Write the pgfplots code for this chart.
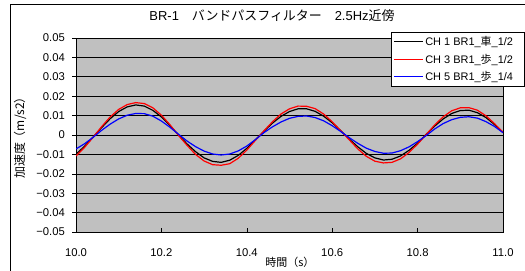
\documentclass[border=0pt]{standalone}
\usepackage{fontspec}
\setmainfont{Liberation Sans}
\newfontfamily\cjk{Noto Sans CJK JP}
\usepackage{pgfplots}
\pgfplotsset{compat=1.18}
\definecolor{plotgray}{HTML}{C0C0C0}
\begin{document}
\begin{tikzpicture}
\begin{axis}[
  at={(76bp,-232bp)}, anchor=south west,
  scale only axis, width=427bp, height=194bp,
  xmin=10, xmax=11, ymin=-0.05, ymax=0.05,
  scaled y ticks=false, scaled x ticks=false,
  axis background/.style={fill=plotgray},
  axis line style={black, line width=0.8pt},
  xtick={10,10.2,10.4,10.6,10.8,11},
  xticklabels={10.0,10.2,10.4,10.6,10.8,11.0},
  ytick={-0.05,-0.04,-0.03,-0.02,-0.01,0,0.01,0.02,0.03,0.04,0.05},
  yticklabels={−0.05,−0.04,−0.03,−0.02,−0.01,0,0.01,0.02,0.03,0.04,0.05},
  tickpos=left,
  major tick length=4bp,
  tick style={black, line width=0.6pt},
  y tick style={xshift=-4bp},
  ymajorgrids, grid style={black, line width=0.6pt},
  xticklabel style={anchor=base, inner sep=0pt, yshift=-24bp, font=\fontsize{11.3}{13}\selectfont},
  yticklabel style={anchor=east, inner sep=0pt, xshift=-11bp, font=\fontsize{11.3}{13}\selectfont},
  title={BR-1\hspace{1em}{\cjk バンドパスフィルター}\hspace{1em}2.5Hz{\cjk 近傍}},
  title style={at={(rel axis cs:0.459,1.0825)}, anchor=center, inner sep=0pt, font=\fontsize{13}{15}\selectfont},
  xlabel={\cjk 時間（s）},
  xlabel style={at={(rel axis cs:0.501,-0.155)}, anchor=center, inner sep=0pt, font=\fontsize{11}{13}\selectfont},
  legend style={at={(rel axis cs:0.7377,1.031)}, anchor=north west, draw=black, fill=white, line width=0.6pt,
    inner sep=2bp, row sep=3bp, font=\fontsize{11}{13}\selectfont, legend cell align=left},
  legend image code/.code={\draw[#1, line width=1pt] (0bp,0bp) -- (29bp,0bp);},
]
\addplot[black, line width=1.2pt] coordinates {
(10.00,-0.0099) (10.02,-0.0058) (10.04,-0.0011) (10.06,0.0038) (10.08,0.0084)
(10.10,0.0121) (10.12,0.0145) (10.14,0.0155) (10.16,0.0149) (10.18,0.0127)
(10.20,0.0093) (10.22,0.0049) (10.24,0.0000) (10.26,-0.0046) (10.28,-0.0086)
(10.30,-0.0118) (10.32,-0.0136) (10.34,-0.0141) (10.36,-0.0130) (10.38,-0.0105)
(10.40,-0.0069) (10.42,-0.0025) (10.44,0.0019) (10.46,0.0061) (10.48,0.0096)
(10.50,0.0121) (10.52,0.0135) (10.54,0.0135) (10.56,0.0122) (10.58,0.0097)
(10.60,0.0063) (10.62,0.0022) (10.64,-0.0021) (10.66,-0.0061) (10.68,-0.0095)
(10.70,-0.0118) (10.72,-0.0129) (10.74,-0.0125) (10.76,-0.0108) (10.78,-0.0079)
(10.80,-0.0042) (10.82,0.0003) (10.84,0.0046) (10.86,0.0083) (10.88,0.0111)
(10.90,0.0126) (10.92,0.0128) (10.94,0.0115) (10.96,0.0090) (10.98,0.0054)
(11.00,0.0013)
};
\addlegendentry{\makebox[95bp][l]{CH 1 BR1\_{\cjk 車}\_1/2}}
\addplot[red, line width=1.2pt] coordinates {
(10.00,-0.0108) (10.02,-0.0064) (10.04,-0.0012) (10.06,0.0043) (10.08,0.0093)
(10.10,0.0132) (10.12,0.0157) (10.14,0.0167) (10.16,0.0162) (10.18,0.0140)
(10.20,0.0102) (10.22,0.0053) (10.24,-0.0002) (10.26,-0.0053) (10.28,-0.0100)
(10.30,-0.0134) (10.32,-0.0153) (10.34,-0.0156) (10.36,-0.0148) (10.38,-0.0120)
(10.40,-0.0078) (10.42,-0.0028) (10.44,0.0021) (10.46,0.0068) (10.48,0.0108)
(10.50,0.0135) (10.52,0.0149) (10.54,0.0148) (10.56,0.0136) (10.58,0.0108)
(10.60,0.0068) (10.62,0.0022) (10.64,-0.0025) (10.66,-0.0072) (10.68,-0.0110)
(10.70,-0.0135) (10.72,-0.0144) (10.74,-0.0141) (10.76,-0.0123) (10.78,-0.0090)
(10.80,-0.0047) (10.82,0.0002) (10.84,0.0052) (10.86,0.0094) (10.88,0.0125)
(10.90,0.0140) (10.92,0.0141) (10.94,0.0128) (10.96,0.0099) (10.98,0.0059)
(11.00,0.0014)
};
\addlegendentry{\makebox[95bp][l]{CH 3 BR1\_{\cjk 歩}\_1/2}}
\addplot[blue, line width=1.2pt] coordinates {
(10.00,-0.0072) (10.02,-0.0045) (10.04,-0.0012) (10.06,0.0024) (10.08,0.0056)
(10.10,0.0083) (10.12,0.0102) (10.14,0.0111) (10.16,0.0110) (10.18,0.0097)
(10.20,0.0072) (10.22,0.0040) (10.24,0.0004) (10.26,-0.0031) (10.28,-0.0060)
(10.30,-0.0083) (10.32,-0.0098) (10.34,-0.0103) (10.36,-0.0098) (10.38,-0.0082)
(10.40,-0.0057) (10.42,-0.0024) (10.44,0.0012) (10.46,0.0042) (10.48,0.0067)
(10.50,0.0086) (10.52,0.0096) (10.54,0.0098) (10.56,0.0090) (10.58,0.0073)
(10.60,0.0048) (10.62,0.0018) (10.64,-0.0014) (10.66,-0.0043) (10.68,-0.0068)
(10.70,-0.0085) (10.72,-0.0094) (10.74,-0.0093) (10.76,-0.0081) (10.78,-0.0061)
(10.80,-0.0034) (10.82,-0.0003) (10.84,0.0031) (10.86,0.0059) (10.88,0.0079)
(10.90,0.0091) (10.92,0.0094) (10.94,0.0087) (10.96,0.0069) (10.98,0.0044)
(11.00,0.0012)
};
\addlegendentry{\makebox[95bp][l]{CH 5 BR1\_{\cjk 歩}\_1/4}}
\end{axis}
\node[rotate=90, inner sep=0pt, font=\fontsize{12}{14}\selectfont] at (20bp,-135bp) {\cjk 加速度（m/s2）};
\draw[black, line width=0.6pt] (10bp,-4bp) rectangle (560bp,-300bp);
\pgfresetboundingbox
\useasboundingbox (0bp,0bp) rectangle (525bp,-271bp);
\end{tikzpicture}
\end{document}
